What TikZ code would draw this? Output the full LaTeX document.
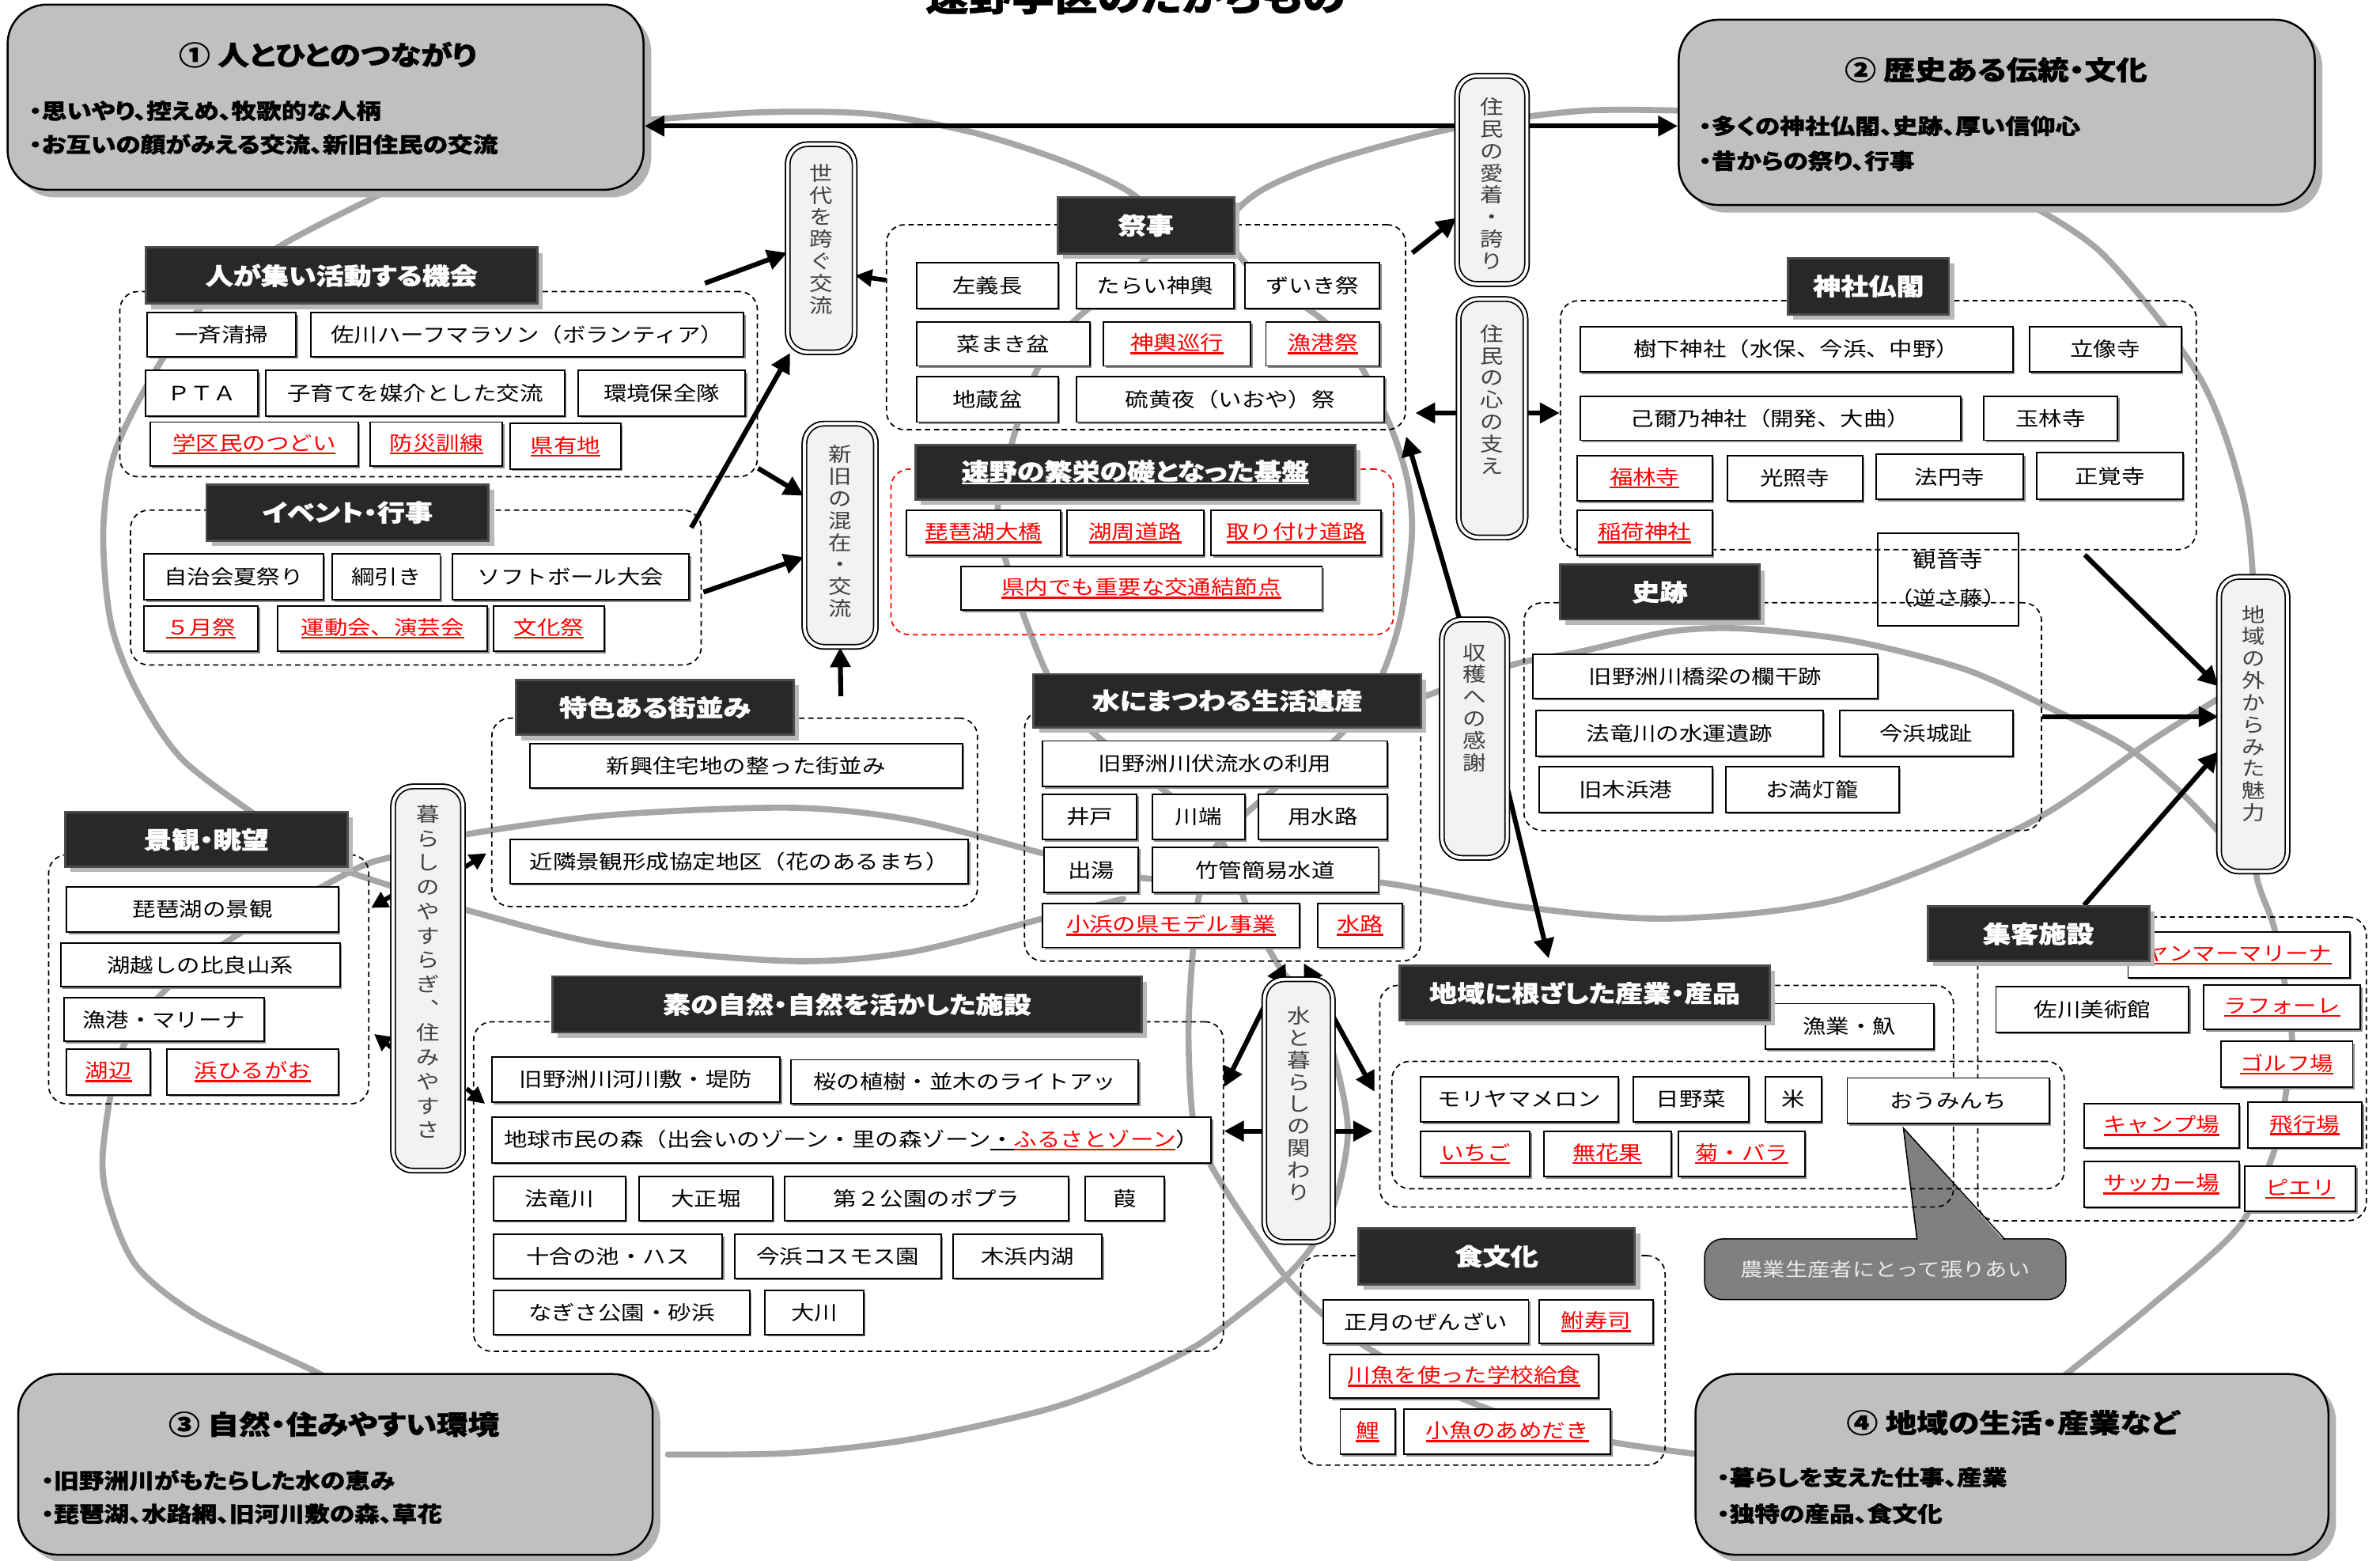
\documentclass[tikz,border=0pt]{standalone}
\usepackage{fontspec}
\newfontfamily\jp{Noto Sans CJK JP}[FakeStretch=1.18]
\newfontfamily\jpp{Noto Sans CJK JP}[FakeStretch=1.18,RawFeature=+palt,BoldFeatures={FakeBold=1.3}]
\usetikzlibrary{arrows.meta,shadows,calc}
\definecolor{curvegray}{RGB}{166,166,166}
\definecolor{themefill}{RGB}{192,192,192}
\definecolor{hdrfill}{RGB}{40,40,40}
\definecolor{vfill}{RGB}{242,242,242}
\definecolor{callfill}{RGB}{128,128,128}
\definecolor{calltext}{RGB}{235,235,235}
\newcommand\rul[1]{\setbox0=\hbox{#1}\rlap{\copy0}\rule[-2.6pt]{\wd0}{1.3pt}}
\newcommand\mkbox[7][]{%
  \pgfmathsetmacro\mbcx{(#3+#5)/2}%
  \pgfmathsetmacro\mbcy{(#4+#6)/2}%
  \pgfmathsetmacro\mbw{#5-#3}%
  \pgfmathsetmacro\mbh{#6-#4}%
  \node[#1,minimum width=\mbw pt,minimum height=\mbh pt] (#2) at (\mbcx,\mbcy) {#7};}
\tikzset{
 itembox/.style={draw=black, line width=1pt, fill=white, inner sep=0pt,
   font=\jp\fontsize{13}{15}\selectfont,
   drop shadow={shadow xshift=1.3pt,shadow yshift=-1.3pt,fill=black!45,opacity=1}},
 rbox/.style={itembox, text=red},
 kbox/.style={draw=black, line width=1pt, inner sep=0pt, align=center, font=\jp\fontsize{13}{25}\selectfont},
 grp/.style={draw=black, line width=0.9pt, dash pattern=on 3.5pt off 2.5pt, rounded corners=12pt, inner sep=0pt},
 hdr/.style={fill=hdrfill, draw=black!70, line width=1.5pt, text=white, inner sep=0pt,
   font=\jpp\bfseries\fontsize{15.5}{18}\selectfont,
   drop shadow={shadow xshift=3.5pt,shadow yshift=-3.5pt,fill=black!28,opacity=1}},
 vbox/.style={draw=black, line width=0.9pt, double=white, double distance=2pt, rounded corners=13pt, fill=vfill, inner sep=0pt},
 vtxt/.style={align=center, text=black!75, inner sep=0pt, font=\jp\fontsize{13}{14.5}\selectfont},
 theme/.style={fill=themefill, draw=black, line width=1.3pt, rounded corners=26pt, inner sep=0pt,
   drop shadow={shadow xshift=5pt,shadow yshift=-5pt,fill=black!30,opacity=1}},
 ttl/.style={inner sep=0pt, font=\jpp\bfseries\fontsize{17.5}{20}\selectfont},
 bul/.style={inner sep=0pt, anchor=west, font=\jpp\bfseries\fontsize{14}{17}\selectfont},
 gcurve/.style={line width=4pt, draw=curvegray, line cap=round},
 arr/.style={line width=3.2pt, -{Triangle[length=13pt,width=13pt]}},
 sarr/.style={line width=3pt, -{Triangle[length=11pt,width=11pt]}},
 darr/.style={line width=3.2pt, {Triangle[length=13pt,width=13pt]}-{Triangle[length=13pt,width=13pt]}},
 callbox/.style={fill=callfill, draw=black, line width=0.8pt, rounded corners=12pt, inner sep=0pt,
   text=calltext, font=\jp\fontsize{12.5}{15}\selectfont},
}
\begin{document}
\begin{tikzpicture}[x=1pt,y=-1pt]
\useasboundingbox (0,0) rectangle (1568,1028);
\fill[white] (0,0) rectangle (1568,1028);

% title (cut at top edge, as in the reference)
\node[inner sep=0pt, font=\jpp\bfseries\fontsize{24}{28}\selectfont] (title) at (748,-2) {速野学区のたからもの};

% ---------------- gray background curves ----------------
\draw[gcurve] plot[smooth] coordinates {(262,118) (256,125) (183,163) (130,205) (99,250) (75,300) (68,351) (73,410) (90,455) (120,500) (173,540) (215,568) (259,584) (306,599) (399,622) (521,633) (600,627) (687,605) (740,592)};
\draw[gcurve] plot[smooth] coordinates {(222,915) (209,904) (133,868) (90,834) (71,790) (68,756) (80,692) (110,651) (156,616) (233,573) (259,564) (299,551) (400,537) (521,532) (600,540) (687,562) (750,578) (830,580) (907,581) (1000,597) (1100,605) (1213,592) (1335,543) (1417,488) (1470,455)};
\draw[gcurve] plot[smooth] coordinates {(415,80) (500,74) (573,75) (640,87) (700,106) (745,127) (765,150) (748,178) (707,212) (684,242) (668,287) (657,338) (664,374) (678,415) (694,452) (715,478) (760,515) (804,553) (822,598) (845,640) (866,660) (880,700) (888,745) (880,790) (865,820) (847,841) (820,863) (787,887) (740,910) (687,929) (600,948) (521,957) (440,958)};
\draw[gcurve] plot[smooth] coordinates {(1112,73) (1042,73) (960,84) (880,105) (830,126) (808,150) (825,178) (873,212) (897,242) (917,283) (928,320) (930,356) (922,410) (907,452) (882,485) (845,515) (804,553) (790,590) (786,625) (783,680) (786,737) (797,766) (818,800) (847,841) (873,867) (903,889) (956,918) (1010,938) (1063,950) (1120,958)};
\draw[gcurve] plot[smooth] coordinates {(1328,130) (1385,167) (1450,250) (1479,333) (1486,420) (1485,500) (1486,573) (1499,614) (1510,683) (1506,720) (1499,756) (1475,808) (1417,860) (1355,910)};
\draw[gcurve] plot[smooth] coordinates {(930,462) (996,438) (1042,429) (1100,416) (1148,414) (1220,422) (1295,441) (1352,467) (1401,492) (1440,525) (1468,555)};

% ---------------- theme boxes ----------------
\mkbox[theme]{t1}{5}{3}{424}{125}{}
\mkbox[theme]{t2}{1106}{13}{1525}{135}{}
\mkbox[theme]{t3}{12}{905}{430}{1024}{}
\mkbox[theme]{t4}{1117}{905}{1534}{1024}{}
\node[ttl] (t1a) at (216,36) {①\hspace{5pt}人とひとのつながり};
\node[bul] (t1b) at (19,73) {・思いやり、控えめ、牧歌的な人柄};
\node[bul] (t1c) at (19,95) {・お互いの顔がみえる交流、新旧住民の交流};
\node[ttl] (t2a) at (1315,46) {②\hspace{5pt}歴史ある伝統・文化};
\node[bul] (t2b) at (1119,83) {・多くの神社仏閣、史跡、厚い信仰心};
\node[bul] (t2c) at (1119,106) {・昔からの祭り、行事};
\node[ttl] (t3a) at (220,938) {③\hspace{5pt}自然・住みやすい環境};
\node[bul] (t3b) at (27,975) {・旧野洲川がもたらした水の恵み};
\node[bul] (t3c) at (27,997) {・琵琶湖、水路網、旧河川敷の森、草花};
\node[ttl] (t4a) at (1326,937) {④\hspace{5pt}地域の生活・産業など};
\node[bul] (t4b) at (1131,973) {・暮らしを支えた仕事、産業};
\node[bul] (t4c) at (1131,997) {・独特の産品、食文化};

% ---------------- callout ----------------
\coordinate (cptip) at (1254,743);
\mkbox[callbox]{cb}{1123}{816}{1361}{856}{農業生産者にとって張りあい}
\fill[callfill] (cptip) -- (1263,818) -- (1321,818) -- cycle;
\draw[line width=0.8pt] (1263,816.5) -- (cptip) -- (1321,816.5);

% ---------------- dashed groups ----------------
\mkbox[grp]{d1}{79}{192}{499}{314}{}
\mkbox[grp]{d2}{86}{336}{462}{438}{}
\mkbox[grp]{d3}{324}{473}{644}{597}{}
\mkbox[grp]{d4}{32}{563}{243}{727}{}
\mkbox[grp]{d5}{312}{673}{806}{890}{}
\mkbox[grp]{d6}{584}{148}{926}{283}{}
\mkbox[grp,draw=red]{d7}{587}{309}{918}{418}{}
\mkbox[grp]{d8}{1028}{198}{1447}{362}{}
\mkbox[grp]{d9}{1004}{397}{1345}{547}{}
\mkbox[grp]{d10}{675}{468}{936}{633}{}
\mkbox[grp]{d11}{909}{649}{1287}{795}{}
\mkbox[grp]{d12}{917}{699}{1360}{783}{}
\mkbox[grp]{d13}{1303}{604}{1559}{804}{}
\mkbox[grp]{d14}{857}{827}{1097}{965}{}

% ---------------- item boxes ----------------
\mkbox[itembox]{i11}{97}{206}{195}{235}{一斉清掃}
\mkbox[itembox]{i12}{205}{206}{490}{235}{佐川ハーフマラソン（ボランティア）}
\mkbox[itembox]{i13}{96}{244}{170}{274}{ＰＴＡ}
\mkbox[itembox]{i14}{175}{244}{372}{274}{子育てを媒介とした交流}
\mkbox[itembox]{i15}{381}{244}{491}{274}{環境保全隊}
\mkbox[rbox]{i16}{99}{278}{236}{307}{\rul{学区民のつどい}}
\mkbox[rbox]{i17}{244}{278}{331}{307}{\rul{防災訓練}}
\mkbox[rbox]{i18}{336}{279}{409}{309}{\rul{県有地}}
\mkbox[itembox]{i21}{95}{365}{213}{395}{自治会夏祭り}
\mkbox[itembox]{i22}{219}{365}{290}{395}{綱引き}
\mkbox[itembox]{i23}{298}{365}{454}{395}{ソフトボール大会}
\mkbox[rbox]{i24}{95}{399}{170}{429}{\rul{５月祭}}
\mkbox[rbox]{i25}{183}{399}{321}{429}{\rul{運動会、演芸会}}
\mkbox[rbox]{i26}{325}{399}{398}{429}{\rul{文化祭}}
\mkbox[itembox]{i31}{604}{173}{697}{203}{左義長}
\mkbox[itembox]{i32}{709}{173}{813}{203}{たらい神輿}
\mkbox[itembox]{i33}{820}{173}{909}{203}{ずいき祭}
\mkbox[itembox]{i34}{604}{212}{718}{241}{菜まき盆}
\mkbox[rbox]{i35}{727}{212}{824}{241}{\rul{神輿巡行}}
\mkbox[rbox]{i36}{834}{212}{909}{241}{\rul{漁港祭}}
\mkbox[itembox]{i37}{604}{248}{697}{278}{地蔵盆}
\mkbox[itembox]{i38}{709}{248}{912}{278}{硫黄夜（いおや）祭}
\mkbox[rbox]{i41}{597}{336}{699}{366}{\rul{琵琶湖大橋}}
\mkbox[rbox]{i42}{703}{336}{793}{366}{\rul{湖周道路}}
\mkbox[rbox]{i43}{798}{336}{910}{366}{\rul{取り付け道路}}
\mkbox[rbox]{i44}{633}{373}{871}{402}{\rul{県内でも重要な交通結節点}}
\mkbox[itembox]{i51}{1041}{215}{1326}{245}{樹下神社（水保、今浜、中野）}
\mkbox[itembox]{i52}{1337}{215}{1437}{245}{立像寺}
\mkbox[itembox]{i53}{1041}{261}{1292}{290}{己爾乃神社（開発、大曲）}
\mkbox[itembox]{i54}{1307}{261}{1395}{290}{玉林寺}
\mkbox[rbox]{i55}{1039}{300}{1128}{330}{\rul{福林寺}}
\mkbox[itembox]{i56}{1138}{300}{1227}{330}{光照寺}
\mkbox[itembox]{i57}{1236}{299}{1333}{329}{法円寺}
\mkbox[itembox]{i58}{1342}{298}{1438}{329}{正覚寺}
\mkbox[rbox]{i59}{1039}{336}{1128}{366}{\rul{稲荷神社}}
\mkbox[kbox]{i5a}{1237}{351}{1330}{412}{観音寺\\（逆さ藤）}
\mkbox[itembox]{i61}{1010}{431}{1237}{460}{旧野洲川橋梁の欄干跡}
\mkbox[itembox]{i62}{1012}{468}{1201}{498}{法竜川の水運遺跡}
\mkbox[itembox]{i63}{1212}{468}{1326}{498}{今浜城趾}
\mkbox[itembox]{i64}{1014}{505}{1128}{535}{旧木浜港}
\mkbox[itembox]{i65}{1137}{505}{1251}{535}{お満灯籠}
\mkbox[itembox]{i71}{687}{488}{914}{518}{旧野洲川伏流水の利用}
\mkbox[itembox]{i72}{687}{523}{749}{553}{井戸}
\mkbox[itembox]{i73}{759}{523}{820}{553}{川端}
\mkbox[itembox]{i74}{829}{523}{914}{553}{用水路}
\mkbox[itembox]{i75}{688}{558}{750}{588}{出湯}
\mkbox[itembox]{i76}{759}{558}{908}{588}{竹管簡易水道}
\mkbox[rbox]{i77}{687}{595}{856}{624}{\rul{小浜の県モデル事業}}
\mkbox[rbox]{i78}{868}{595}{924}{624}{\rul{水路}}
\mkbox[itembox]{i81}{349}{490}{634}{519}{新興住宅地の整った街並み}
\mkbox[itembox]{i82}{336}{553}{638}{582}{近隣景観形成協定地区（花のあるまち）}
\mkbox[itembox]{i91}{44}{584}{223}{614}{琵琶湖の景観}
\mkbox[itembox]{i92}{40}{621}{224}{650}{湖越しの比良山系}
\mkbox[itembox]{i93}{42}{657}{174}{686}{漁港・マリーナ}
\mkbox[rbox]{i94}{44}{691}{99}{721}{\rul{湖辺}}
\mkbox[rbox]{i95}{110}{691}{223}{721}{\rul{浜ひるがお}}
\mkbox[itembox]{ia1}{324}{696}{514}{726}{旧野洲川河川敷・堤防}
\mkbox[itembox]{ia2}{521}{698}{750}{727}{桜の植樹・並木のライトアッ}
\mkbox[itembox]{ia3}{324}{736}{798}{766}{地球市民の森（出会いのゾーン・里の森ゾーン\rul{・}\textcolor{red}{\rul{ふるさとゾーン}}）}
\mkbox[itembox]{ia4}{325}{775}{412}{804}{法竜川}
\mkbox[itembox]{ia5}{421}{775}{509}{804}{大正堀}
\mkbox[itembox]{ia6}{517}{775}{704}{804}{第２公園のポプラ}
\mkbox[itembox]{ia7}{715}{775}{767}{804}{葭}
\mkbox[itembox]{ia8}{325}{813}{476}{842}{十合の池・ハス}
\mkbox[itembox]{ia9}{484}{813}{620}{842}{今浜コスモス園}
\mkbox[itembox]{iaa}{628}{813}{726}{842}{木浜内湖}
\mkbox[itembox]{iab}{325}{850}{494}{879}{なぎさ公園・砂浜}
\mkbox[itembox]{iac}{504}{850}{569}{879}{大川}
\mkbox[itembox]{ib1}{1163}{661}{1274}{691}{漁業・魞}
\mkbox[itembox]{ib2}{936}{709}{1066}{739}{モリヤマメロン}
\mkbox[itembox]{ib3}{1076}{709}{1152}{739}{日野菜}
\mkbox[itembox]{ib4}{1163}{709}{1200}{739}{米}
\mkbox[itembox]{ib5}{1217}{710}{1350}{740}{おうみんち}
\mkbox[rbox]{ib6}{936}{745}{1008}{775}{\rul{いちご}}
\mkbox[rbox]{ib7}{1017}{745}{1101}{775}{\rul{無花果}}
\mkbox[rbox]{ib8}{1106}{745}{1189}{775}{\rul{菊・バラ}}
\mkbox[rbox]{ic1}{1402}{614}{1548}{644}{\rul{ヤンマーマリーナ}}
\mkbox[itembox]{ic2}{1315}{650}{1442}{680}{佐川美術館}
\mkbox[rbox]{ic3}{1452}{649}{1555}{678}{\rul{ラフォーレ}}
\mkbox[rbox]{ic4}{1463}{686}{1550}{716}{\rul{ゴルフ場}}
\mkbox[rbox]{ic5}{1373}{727}{1475}{756}{\rul{キャンプ場}}
\mkbox[rbox]{ic6}{1481}{726}{1556}{756}{\rul{飛行場}}
\mkbox[rbox]{ic7}{1373}{765}{1475}{795}{\rul{サッカー場}}
\mkbox[rbox]{ic8}{1479}{768}{1552}{798}{\rul{ピエリ}}
\mkbox[itembox]{id1}{872}{856}{1007}{885}{正月のぜんざい}
\mkbox[rbox]{id2}{1014}{856}{1089}{885}{\rul{鮒寿司}}
\mkbox[rbox]{id3}{876}{892}{1053}{921}{\rul{川魚を使った学校給食}}
\mkbox[rbox]{id4}{883}{928}{919}{958}{\rul{鯉}}
\mkbox[rbox]{id5}{925}{928}{1061}{958}{\rul{小魚のあめだき}}

% ---------------- headers needed as arrow ends ----------------
\mkbox[hdr]{h11}{922}{636}{1166}{672}{地域に根ざした産業・産品}
\mkbox[hdr]{h12}{1270}{597}{1416}{633}{集客施設}

% ---------------- vertical boxes (anchors) ----------------
\mkbox[vbox]{v1}{519}{95}{563}{232}{}
\mkbox[vbox]{v2}{530}{279}{577}{426}{}
\mkbox[vbox]{v3}{960}{50}{1006}{187}{}
\mkbox[vbox]{v4}{961}{197}{1005}{354}{}
\mkbox[vbox]{v5}{950}{408}{993}{565}{}
\mkbox[vbox]{v6}{1462}{380}{1507}{574}{}
\mkbox[vbox]{v7}{259}{518}{305}{771}{}
\mkbox[vbox]{v8}{833}{645}{878}{818}{}

% ---------------- black arrows ----------------
\draw[darr] ($(t1.east)+(0,19)$) -- ($(t2.west)+(0,9)$);
\draw[arr] ($(d1.north east)+(-35,-5)$) -- ($(v1.west)+(0,3)$);
\draw[arr] ($(d2.north east)+(-7,12)$) -- ($(v1.south west)+(2,0)$);
\draw[arr] ($(d1.south east)+(0,-6)$) -- ($(v2.west)+(0,-26)$);
\draw[arr] ($(d2.east)+(1,3)$) -- ($(v2.west)+(0,14.5)$);
\draw[arr] ($(d3.north east)+(-90.5,-14)$) -- (v2.south);
\draw[sarr] ($(d6.west)+(0,-31)$) -- ($(v1.east)+(0,18)$);
\draw[arr] ($(d6.north east)+(4,19)$) -- ($(v3.west)+(0,25)$);
\draw[arr] ($(v4.west)+(0,-3.5)$) -- ($(d6.east |- v4.west)+(6,-3.5)$);
\draw[arr] ($(v4.east)+(0,-3.5)$) -- ($(d8.west |- v4.east)+(0,-3.5)$);
\draw[arr] ($(v5.north)+(-10,0)$) -- ($(d6.south east)+(0,4)$);
\draw[arr] ($(v5.east)+(0,34)$) -- ($(h11.north west)+(99,-4)$);
\draw[arr] ($(d8.south east)+(-74,3)$) -- ($(v6.west)+(0,-25)$);
\draw[arr] (d9.east) -- (v6.west |- d9.east);
\draw[arr] ($(h12.north)+(30,0)$) -- ($(v6.west)+(0,18)$);
\draw[sarr] ($(v7.west)+(2,-56)$) -- ($(d4.east)+(1,-47)$);
\draw[sarr] ($(v7.west)+(2,47.5)$) -- ($(d4.east)+(3,36)$);
\draw[sarr] ($(v7.east)+(1,-73.5)$) -- ($(d3.west)+(-3,27)$);
\draw[sarr] ($(v7.east)+(2,72.5)$) -- ($(d5.west)+(8,-54.5)$);
\draw[darr] ($(d5.east)+(0,-65.5)$) -- ($(d10.south)+(41.5,1)$);
\draw[darr] ($(d10.south)+(53.5,1)$) -- ($(d11.west)+(-3,-3)$);
\draw[darr] ($(d5.east)+(0,-36.5)$) -- ($(d11.west)+(-4,23)$);

% ---------------- vertical boxes drawn over arrows ----------------
\mkbox[vbox]{v1b}{519}{95}{563}{232}{}
\mkbox[vbox]{v2b}{530}{279}{577}{426}{}
\mkbox[vbox]{v3b}{960}{50}{1006}{187}{}
\mkbox[vbox]{v4b}{961}{197}{1005}{354}{}
\mkbox[vbox]{v5b}{950}{408}{993}{565}{}
\mkbox[vbox]{v6b}{1462}{380}{1507}{574}{}
\mkbox[vbox]{v7b}{259}{518}{305}{771}{}
\mkbox[vbox]{v8b}{833}{645}{878}{818}{}
\node[vtxt] (v1t) at (541,157.5) {世\\代\\を\\跨\\ぐ\\交\\流};
\node[vtxt] (v2t) at (553.5,350) {新\\旧\\の\\混\\在\\・\\交\\流};
\node[vtxt] (v3t) at (983,121) {住\\民\\の\\愛\\着\\・\\誇\\り};
\node[vtxt] (v4t) at (983,263) {住\\民\\の\\心\\の\\支\\え};
\node[vtxt] (v5t) at (971.5,466) {収\\穫\\へ\\の\\感\\謝};
\node[vtxt] (v6t) at (1484.5,470) {地\\域\\の\\外\\か\\ら\\み\\た\\魅\\力};
\node[vtxt, font=\jp\fontsize{13}{16}\selectfont] (v7t) at (282,640) {暮\\ら\\し\\の\\や\\す\\ら\\ぎ\\︑\\住\\み\\や\\す\\さ};
\node[vtxt] (v8t) at (855.5,727) {水\\と\\暮\\ら\\し\\の\\関\\わ\\り};

% ---------------- headers ----------------
\mkbox[hdr]{h1}{96}{163}{354}{200}{人が集い活動する機会}
\mkbox[hdr]{h2}{136}{319}{322}{356}{イベント・行事}
\mkbox[hdr]{h3}{340}{448}{523}{484}{特色ある街並み}
\mkbox[hdr]{h4}{43}{535}{229}{571}{景観・眺望}
\mkbox[hdr]{h5}{364}{643}{752}{680}{素の自然・自然を活かした施設}
\mkbox[hdr]{h6}{697}{130}{813}{167}{祭事}
\mkbox[hdr]{h7}{603}{293}{893}{329}{\rul{速野の繁栄の礎となった基盤}}
\mkbox[hdr]{h8}{1178}{170}{1284}{207}{神社仏閣}
\mkbox[hdr]{h9}{1028}{372}{1159}{408}{史跡}
\mkbox[hdr]{h10}{681}{444}{936}{479}{水にまつわる生活遺産}
\mkbox[hdr]{h11b}{922}{636}{1166}{672}{地域に根ざした産業・産品}
\mkbox[hdr]{h12b}{1270}{597}{1416}{633}{集客施設}
\mkbox[hdr]{h13}{895}{809}{1077}{846}{食文化}
\end{tikzpicture}
\end{document}
